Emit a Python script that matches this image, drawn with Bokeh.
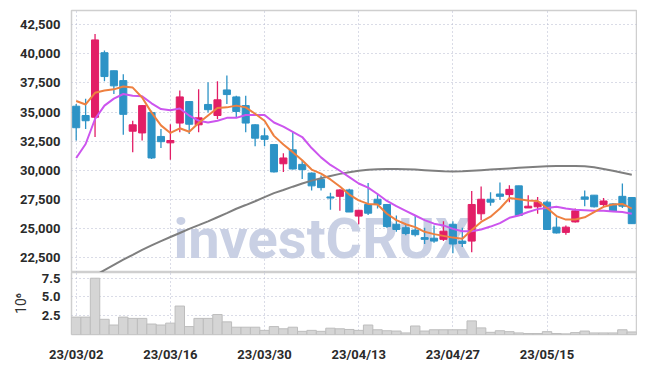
from bokeh.plotting import figure
from bokeh.layouts import column
from bokeh.models import ColumnDataSource, FixedTicker, NumeralTickFormatter, Range1d, Label
from bokeh.embed import file_html
from bokeh.resources import INLINE

# ---- data ----
dates = ["23/03/02", "23/03/03", "23/03/06", "23/03/07", "23/03/08", "23/03/09", "23/03/10",
         "23/03/13", "23/03/14", "23/03/15", "23/03/16", "23/03/17", "23/03/20", "23/03/21",
         "23/03/22", "23/03/23", "23/03/24", "23/03/27", "23/03/28", "23/03/29", "23/03/30",
         "23/03/31", "23/04/03", "23/04/04", "23/04/05", "23/04/06", "23/04/07", "23/04/10",
         "23/04/11", "23/04/12", "23/04/13", "23/04/14", "23/04/17", "23/04/18", "23/04/19",
         "23/04/20", "23/04/21", "23/04/24", "23/04/25", "23/04/26", "23/04/27", "23/04/28",
         "23/05/02", "23/05/03", "23/05/04", "23/05/08", "23/05/09", "23/05/10", "23/05/11",
         "23/05/12", "23/05/15", "23/05/16", "23/05/17", "23/05/18", "23/05/19", "23/05/22",
         "23/05/23", "23/05/24", "23/05/25", "23/05/26"]

opens = [35500, 34700, 34550, 40100, 38550, 37700, 33350, 33200, 34950, 32900,
         32350, 34050, 35900, 33900, 35650, 34700, 36900, 36300, 35550, 33900,
         32950, 32200, 30550, 31750, 30500, 29750, 29200, 27700, 27750, 28300,
         26050, 27050, 27500, 27050, 25350, 25050, 24850, 24200, 24150, 24050,
         25350, 23900, 23900, 26250, 27500, 27950, 27900, 28650, 26750, 26850,
         27250, 25100, 24650, 25550, 27700, 27850, 27050, 27100, 27750, 27650]
highs = [35700, 36150, 41700, 40300, 38550, 38250, 34250, 35600, 35100, 33550,
         33950, 36850, 35950, 36950, 37550, 37650, 38150, 36400, 36400, 33950,
         33600, 32250, 31450, 33300, 30850, 29800, 29550, 28050, 28350, 28400,
         26600, 28900, 27950, 27100, 26100, 25350, 26100, 25050, 25250, 25600,
         25600, 25050, 28200, 28600, 28100, 28950, 28700, 28650, 27850, 27700,
         27400, 25950, 25250, 26700, 28250, 27850, 27600, 27150, 28850, 27650]
lows = [32550, 33550, 32850, 37650, 36550, 33050, 31550, 32550, 30950, 31900,
        30900, 33250, 33100, 33250, 34950, 34400, 35700, 34550, 33250, 32050,
        32050, 29800, 29850, 30050, 29250, 28250, 28250, 26600, 26500, 26400,
        25350, 26150, 26700, 25050, 24700, 24400, 24300, 23650, 23750, 23900,
        22850, 23400, 22950, 25700, 26950, 27450, 27250, 26100, 26750, 26250,
        24900, 24550, 24450, 25500, 26900, 26800, 26900, 26450, 26750, 25400]
closes = [33650, 34250, 41200, 38050, 37250, 34800, 33900, 35550, 31050, 32450,
          32550, 36300, 33950, 34500, 35200, 36050, 36500, 35050, 34050, 32750,
          32650, 29850, 31050, 30100, 30050, 28650, 28500, 27600, 28300, 26400,
          26550, 26300, 27050, 25150, 24900, 24550, 24450, 24050, 23900, 24750,
          23650, 23700, 27050, 27500, 27250, 27750, 28350, 26100, 26900, 27250,
          24900, 24600, 25100, 26500, 27500, 26850, 27350, 26450, 26900, 25400]

ma_short = [35950, 35650, 36650, 36850, 36950, 37200, 37100, 36250, 34950, 33850,
            33200, 33600, 33300, 34050, 34700, 35350, 35400, 35550, 35400, 34850,
            34250, 32950, 32200, 31550, 30850, 30050, 29700, 29200, 28600, 27900,
            27400, 27100, 27050, 26250, 25700, 25350, 25100, 24700, 24500, 24350,
            24200, 24100, 24850, 25550, 26000, 26700, 27600, 27500, 27400, 27350,
            26750, 26050, 25750, 25750, 25950, 26400, 26850, 27050, 27100, 26700]
ma_mid = [31050, 32250, 34400, 35550, 36150, 36550, 36400, 36350, 35750, 35250,
          35150, 35300, 34700, 34250, 34100, 34250, 34500, 34500, 34750, 34750,
          34750, 34100, 33750, 33300, 32850, 31900, 31100, 30450, 29950, 29400,
          28850, 28500, 27950, 27350, 26900, 26500, 26100, 25700, 25400, 25250,
          24950, 24750, 24750, 24900, 25150, 25450, 25900, 26100, 26400, 26650,
          26750, 26850, 26700, 26600, 26550, 26500, 26500, 26450, 26400, 26250]
ma_long = [20050, 20500, 20950, 21400, 21850, 22300, 22720, 23150, 23530, 23900,
           24250, 24600, 24950, 25270, 25600, 25950, 26300, 26680, 27000, 27330,
           27680, 28030, 28300, 28580, 28850, 29100, 29300, 29500, 29680, 29830,
           29950, 30030, 30080, 30100, 30100, 30080, 30050, 30000, 29950, 29900,
           29880, 29900, 29950, 30000, 30050, 30100, 30150, 30200, 30250, 30300,
           30330, 30350, 30350, 30350, 30340, 30250, 30100, 29950, 29780, 29600]

volume_m = [2.31, 2.31, 7.48, 2.02, 1.26, 2.31, 2.14, 2.14, 1.39, 1.26,
            1.51, 3.78, 1.05, 2.14, 2.14, 2.65, 1.68, 0.97, 0.97, 0.97,
            0.55, 1.05, 0.76, 0.97, 0.42, 0.55, 0.42, 0.84, 0.76, 0.67,
            0.55, 1.26, 0.63, 0.50, 0.46, 0.21, 1.13, 0.46, 0.63, 0.63,
            0.63, 0.63, 1.81, 0.88, 0.29, 0.50, 0.38, 0.21, 0.13, 0.13,
            0.38, 0.13, 0.08, 0.25, 0.46, 0.21, 0.21, 0.21, 0.63, 0.34]

price_ticks = [22500, 25000, 27500, 30000, 32500, 35000, 37500, 40000, 42500]
volume_ticks = [2.5, 5.0, 7.5]
label_every = 10
watermark = "investCRUX"

# ---- styling ----
UP = "#e21e66"
DOWN = "#2d93c6"
GRID = "#b4b9cf"
FRAME = "#cfcfcf"
TICK_FONT = "Roboto"

idx = list(range(len(dates)))
up = [c >= o for o, c in zip(opens, closes)]
src = ColumnDataSource(dict(
    x=idx, open=opens, high=highs, low=lows, close=closes,
    top=[max(o, c) for o, c in zip(opens, closes)],
    bottom=[min(o, c) for o, c in zip(opens, closes)],
    color=[UP if u else DOWN for u in up],
    ma_s=ma_short, ma_m=ma_mid, ma_l=ma_long, vol=volume_m,
))
tick_pos = idx[::label_every]
tick_labels = {i: dates[i] for i in tick_pos}

# ---- price panel ----
p1 = figure(width=637, height=272, x_range=Range1d(-0.5, len(dates) - 0.5),
            y_range=Range1d(21200, 43730), output_backend="svg", toolbar_location=None,
            min_border_left=71, min_border_right=1, min_border_top=10, min_border_bottom=0)
p1.xaxis.visible = False
p1.xgrid.ticker = FixedTicker(ticks=tick_pos)
p1.yaxis.ticker = FixedTicker(ticks=price_ticks)
p1.yaxis.formatter = NumeralTickFormatter(format="0,0")

wm = Label(x=26.1, y=21240, text=watermark, text_align="center", text_baseline="bottom",
           text_font=TICK_FONT, text_font_size="56px", text_font_style="bold",
           text_color="#c9d0e4", level="underlay")
p1.add_layout(wm)

p1.segment(x0="x", y0="low", x1="x", y1="high", color="color", line_width=1.3, source=src)
p1.vbar(x="x", width=0.75, top="top", bottom="bottom", fill_color="color", line_color="color", source=src)
p1.line("x", "ma_l", color="#7f7f7f", line_width=2, source=src)
p1.line("x", "ma_m", color="#cc55ee", line_width=2, source=src)
p1.line("x", "ma_s", color="#ee8040", line_width=2, source=src)

# ---- volume panel ----
p2 = figure(width=637, height=92, x_range=p1.x_range, y_range=Range1d(0, 8.24),
            output_backend="svg", toolbar_location=None,
            min_border_left=71, min_border_right=1, min_border_top=0, min_border_bottom=27)
p2.vbar(x="x", width=1.0, top="vol", bottom=0, fill_color="#d5d5d5", line_color="#bdbdbd",
        line_width=1, source=src)
p2.xaxis.ticker = FixedTicker(ticks=tick_pos)
p2.xaxis.major_label_overrides = tick_labels
p2.yaxis.ticker = FixedTicker(ticks=volume_ticks)
p2.yaxis.formatter = NumeralTickFormatter(format="0.0")
p2.yaxis.axis_label = "10\u2076"
p2.yaxis.axis_label_text_font = TICK_FONT
p2.yaxis.axis_label_text_font_size = "14px"
p2.yaxis.axis_label_text_font_style = "normal"
p2.yaxis.axis_label_text_color = "#333333"
p2.yaxis.axis_label_standoff = 10

for p in (p1, p2):
    p.outline_line_color = FRAME
    p.outline_line_width = 1.5
    p.background_fill_color = "white"
    p.border_fill_color = "white"
    for ax in p.axis:
        ax.axis_line_color = None
        ax.major_tick_line_color = None
        ax.minor_tick_line_color = None
        ax.major_label_text_font = TICK_FONT
        ax.major_label_text_font_size = "13px"
        ax.major_label_text_font_style = "bold"
        ax.major_label_text_color = "#2a2a2a"
        ax.major_label_standoff = 5
    for g in (p.xgrid, p.ygrid):
        g.grid_line_color = GRID
        g.grid_line_dash = "1 3"
        g.grid_line_width = 1
p2.xaxis.major_label_standoff = 6
p1.ygrid.ticker = FixedTicker(ticks=price_ticks)
p2.ygrid.ticker = FixedTicker(ticks=volume_ticks)
p2.xgrid.ticker = FixedTicker(ticks=tick_pos)

layout = column(p1, p2, spacing=0)
open("out.html", "w").write(file_html(layout, INLINE))
